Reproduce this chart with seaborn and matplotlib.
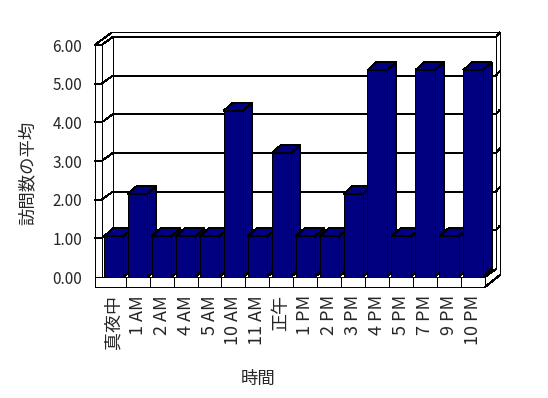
import matplotlib
matplotlib.use('Agg')
import matplotlib.pyplot as plt
import seaborn as sns
from matplotlib.patches import Polygon

# chart data
hours = ['真夜中', '1 AM', '2 AM', '4 AM', '5 AM', '10 AM', '11 AM', '正午',
         '1 PM', '2 PM', '3 PM', '4 PM', '5 PM', '7 PM', '9 PM', '10 PM']
avg_visits = [1.05, 2.15, 1.05, 1.05, 1.05, 4.3, 1.05, 3.2,
              1.05, 1.05, 2.15, 5.35, 1.05, 5.35, 1.05, 5.35]
y_ticks = [0, 1, 2, 3, 4, 5, 6]

sns.set_style('white')
plt.rcParams['font.family'] = ['Noto Sans CJK JP', 'DejaVu Sans']

W, H = 548, 398
fig = plt.figure(figsize=(W / 100, H / 100), dpi=100)
# front plane of the plot box in pixels
left_px, right_px, base_px, top_px = 101.7, 485, 277, 45
ax = fig.add_axes([left_px / W, (H - base_px) / H,
                   (right_px - left_px) / W, (base_px - top_px) / H])

navy = '#000080'
lw = 0.72  # one pixel
sns.barplot(x=hours, y=avg_visits, color=navy, saturation=1, width=0.81,
            edgecolor='black', linewidth=lw, ax=ax)
n = len(hours)
ax.set_xlim(-0.5, n - 0.5)
ax.set_ylim(0, 6)

# pixel -> data unit helpers
sx = n / (right_px - left_px)
sy = 6 / (base_px - top_px)
dwx, dwy = 11 * sx, 8 * sy        # depth of the walls
dbx, dby = 9 * sx, 8 * sy         # depth of the bars
x_in = -0.5
x_out = -0.5 - 7 * sx
x_end = n - 0.5
x_back_r = x_end + dwx
x_out_r = x_end + 15 * sx
floor_b = -10 * sy
kw = dict(color='black', lw=lw, clip_on=False, solid_capstyle='butt', antialiased=False)

# walls / gridlines (behind bars)
for v in y_ticks[1:]:
    ax.plot([x_out, x_in, x_in + dwx, x_back_r], [v, v, v + dwy, v + dwy], zorder=1, **kw)
    ax.plot([x_back_r, x_out_r], [v + dwy, v + dwy + 5 * sy], zorder=1, **kw)
ax.plot([x_in + dwx, x_in + dwx], [dwy, 6 + dwy], zorder=1, **kw)
ax.plot([x_out, x_out], [floor_b, 6], zorder=1, **kw)
ax.plot([x_in, x_in], [0, 6], zorder=1, **kw)
ax.plot([x_out, x_out + 17 * sx, x_out_r], [6, 6 + 12.5 * sy, 6 + 12.5 * sy], zorder=1, **kw)
ax.plot([x_out_r, x_back_r], [6 + 12.5 * sy, 6 + dwy], zorder=1, **kw)
ax.plot([x_back_r, x_back_r], [dwy, 6 + dwy], zorder=1, **kw)
ax.plot([x_out_r, x_out_r], [floor_b + 12 * sy, 6 + 12.5 * sy], zorder=1, **kw)

# floor front strip
ax.plot([x_out, x_end], [0, 0], zorder=2, **kw)
ax.plot([x_out, x_end], [floor_b, floor_b], zorder=2, **kw)
for i in range(n):
    ax.plot([i + 0.5, i + 0.5], [floor_b, 0], zorder=2, **kw)
ax.plot([x_end, x_back_r], [0, dwy], zorder=2, **kw)
ax.plot([x_end, x_out_r], [floor_b, floor_b + 12 * sy], zorder=2, **kw)

# 3d faces for each bar
for i, p in enumerate(ax.patches[:n]):
    x, w, h = p.get_x(), p.get_width(), p.get_height()
    z = 3 + i * 0.1
    side = Polygon([(x + w, 0), (x + w + dbx, dby), (x + w + dbx, h + dby), (x + w, h)],
                   closed=True, facecolor=navy, edgecolor='black', lw=lw, zorder=z)
    top = Polygon([(x, h), (x + w, h), (x + w + dbx, h + dby), (x + dbx, h + dby)],
                  closed=True, facecolor=navy, edgecolor='black', lw=lw, zorder=z)
    for poly in (side, top):
        poly.set_clip_on(False)
        poly.set_antialiased(False)
        ax.add_patch(poly)
    p.set_zorder(z + 0.05)
    p.set_clip_on(False)
    p.set_antialiased(False)

for s in ax.spines.values():
    s.set_visible(False)
ax.set_yticks(y_ticks)
ax.set_yticklabels([f'{v:.2f}' for v in y_ticks], fontsize=11)
ax.set_xticks(range(n))
ax.set_xticklabels(hours, rotation=90, fontsize=13)
ax.tick_params(axis='y', length=0, pad=14)
ax.tick_params(axis='x', length=0, pad=13)
ax.set_ylabel('訪問数の平均', fontsize=12.5)
ax.set_xlabel('時間', fontsize=12.5)
ax.yaxis.set_label_coords(-0.17, 0.448)
ax.xaxis.set_label_coords(0.408, -0.399)
ax.set_facecolor('none')

plt.savefig('out.png', dpi=100, facecolor='white')
